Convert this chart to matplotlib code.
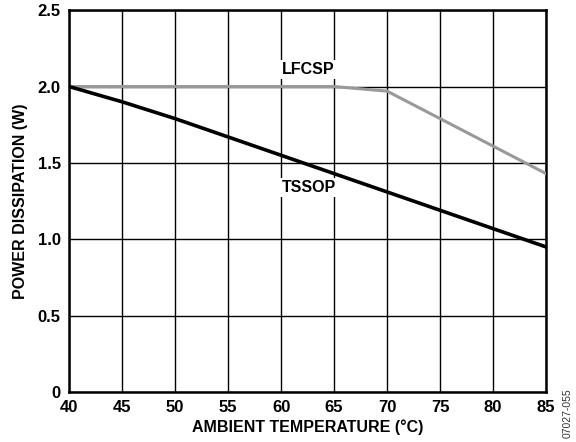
import matplotlib
matplotlib.use("Agg")
import matplotlib.pyplot as plt

# data
temp = [40, 45, 50, 55, 60, 65, 70, 75, 80, 85]
tssop = [2.0, 1.9, 1.79, 1.67, 1.55, 1.43, 1.31, 1.19, 1.07, 0.95]
lfcsp_temp = [40, 65, 70, 75, 80, 85]
lfcsp = [2.0, 2.0, 1.97, 1.79, 1.61, 1.43]

x_ticks = [40, 45, 50, 55, 60, 65, 70, 75, 80, 85]
y_ticks = [0, 0.5, 1.0, 1.5, 2.0, 2.5]
y_labels = ["0", "0.5", "1.0", "1.5", "2.0", "2.5"]

plt.rcParams["font.family"] = ["Liberation Sans", "DejaVu Sans"]
plt.rcParams["font.weight"] = "bold"

fig = plt.figure(figsize=(5.76, 4.42), dpi=100)
ax = fig.add_axes([0.120, 0.113, 0.828, 0.864])

ax.plot(lfcsp_temp, lfcsp, color="#999999", linewidth=2.2, zorder=3)
ax.plot(temp, tssop, color="black", linewidth=2.6, zorder=4)

ax.set_xlim(40, 85)
ax.set_ylim(0, 2.5)
ax.set_xticks(x_ticks)
ax.set_yticks(y_ticks)
ax.set_yticklabels(y_labels)
ax.grid(True, color="black", linewidth=1.0)
ax.set_axisbelow(True)
for s in ax.spines.values():
    s.set_linewidth(1.8)
ax.tick_params(length=0, labelsize=12, pad=6)
for lab in ax.get_xticklabels() + ax.get_yticklabels():
    lab.set_fontweight("bold")

ax.set_xlabel("AMBIENT TEMPERATURE (°C)", fontsize=11.5, fontweight="bold", labelpad=3)
ax.set_ylabel("POWER DISSIPATION (W)", fontsize=11.5, fontweight="bold", labelpad=7)

box = dict(facecolor="white", edgecolor="none", pad=1.5)
ax.text(62.6, 2.11, "LFCSP", ha="center", va="center", fontsize=11.5,
        fontweight="bold", bbox=box, zorder=5)
ax.text(62.6, 1.34, "TSSOP", ha="center", va="center", fontsize=11.5,
        fontweight="bold", bbox=box, zorder=5)

fig.text(0.986, 0.065, "07027-055", rotation=90, ha="center", va="center",
         fontsize=7.5, fontweight="normal", color="#333333")

plt.savefig("out.png", dpi=100)
plt.close()
